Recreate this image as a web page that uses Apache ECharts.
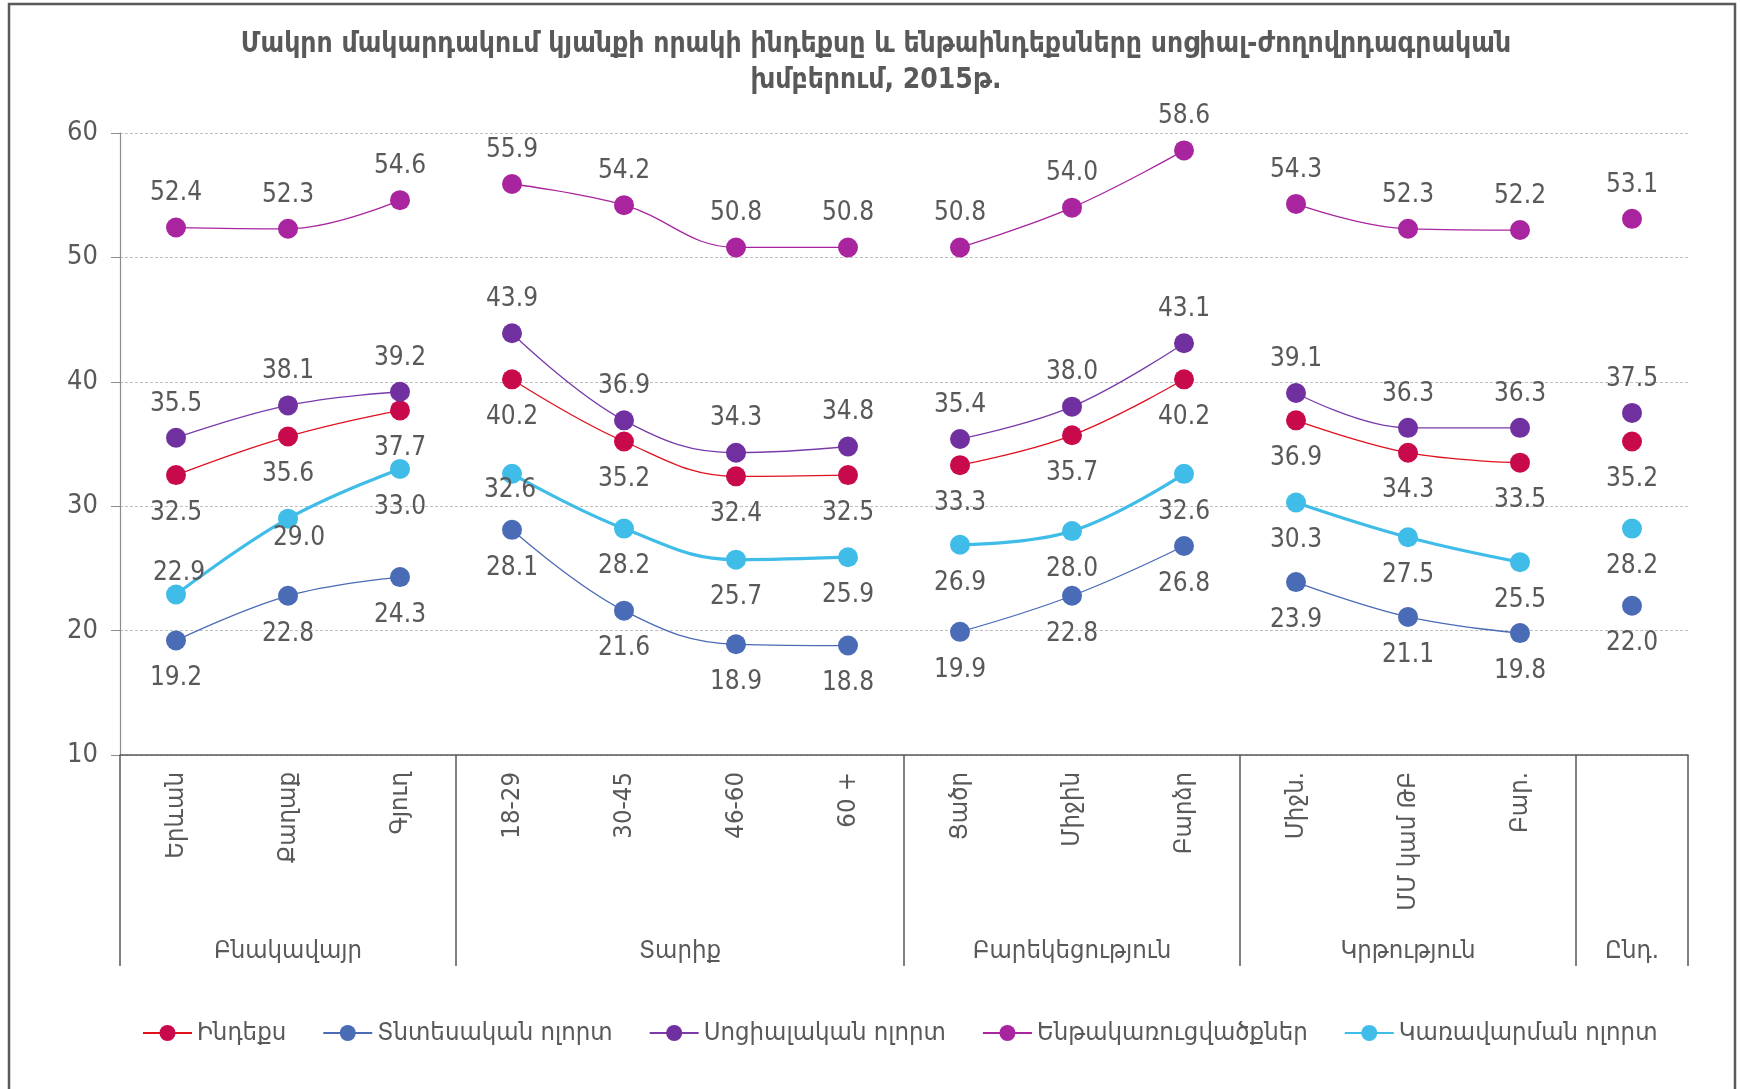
<!DOCTYPE html>
<html>
<head>
<meta charset="utf-8">
<script src="https://cdn.jsdelivr.net/npm/echarts@6/dist/echarts.min.js"></script>
<style>
html,body{margin:0;padding:0;background:#fff;}
#chart{width:1741px;height:1089px;}
</style>
</head>
<body>
<div id="chart"></div>
<script>
// ---- data ----
const categories = ['Երևան','Քաղաք','Գյուղ','18-29','30-45','46-60','60 +','Ցածր','Միջին','Բարձր','Միջն.','ՄՄ կամ ԹԲ','Բար.',''];
const groupNames = ['Բնակավայր','Տարիք','Բարեկեցություն','Կրթություն','Ընդ.'];
const groupSizes = [3, 4, 3, 3, 1];
const seriesNames = ['Ինդեքս','Տնտեսական ոլորտ','Սոցիալական ոլորտ','Ենթակառուցվածքներ','Կառավարման ոլորտ'];
const indexVals = [32.5, 35.6, 37.7, 40.2, 35.2, 32.4, 32.5, 33.3, 35.7, 40.2, 36.9, 34.3, 33.5, 35.2];
const economicVals = [19.2, 22.8, 24.3, 28.1, 21.6, 18.9, 18.8, 19.9, 22.8, 26.8, 23.9, 21.1, 19.8, 22.0];
const socialVals = [35.5, 38.1, 39.2, 43.9, 36.9, 34.3, 34.8, 35.4, 38.0, 43.1, 39.1, 36.3, 36.3, 37.5];
const infraVals = [52.4, 52.3, 54.6, 55.9, 54.2, 50.8, 50.8, 50.8, 54.0, 58.6, 54.3, 52.3, 52.2, 53.1];
const govVals = [22.9, 29.0, 33.0, 32.6, 28.2, 25.7, 25.9, 26.9, 28.0, 32.6, 30.3, 27.5, 25.5, 28.2];
const yTicks = [10, 20, 30, 40, 50, 60];

// ---- styles ----
const FONT = 'DejaVu Sans Condensed';
const TXT = '#595959';
const styles = [
  {line:'#E0101E', mark:'#C8094B', width:1.3, pos:'bottom'},
  {line:'#4A6BB5', mark:'#4A6BB5', width:1.3, pos:'bottom'},
  {line:'#7A3BAA', mark:'#7030A0', width:1.3, pos:'top'},
  {line:'#A8259F', mark:'#A8259F', width:1.3, pos:'top'},
  {line:'#3FBDE8', mark:'#3FBDE8', width:3.2, pos:'bottom'}
];
// per-point label tweaks (series index, category index)
const labelTweaks = {
  '4_0': {position:'top', distance:-2, offset:[3,0]},
  '4_1': {position:'bottom', distance:-3, offset:[11,0]},
  '4_3': {position:'bottom', distance:-7, offset:[-2,0]}
};

const allVals = [indexVals, economicVals, socialVals, infraVals, govVals];

// group ranges
const groups = [];
let start = 0;
groupSizes.forEach(s => { groups.push([start, start + s]); start += s; });
const groupCenters = groups.map(g => (g[0] + g[1]) / 2);
const groupEdges = [0].concat(groups.map(g => g[1]));

const series = [];
allVals.forEach((vals, si) => {
  const st = styles[si];
  groups.forEach(g => {
    const data = categories.map((c, ci) => {
      if (ci < g[0] || ci >= g[1]) return '-';
      const tw = labelTweaks[si + '_' + ci];
      if (tw) return {value: vals[ci], label: tw};
      return vals[ci];
    });
    series.push({
      name: seriesNames[si],
      type: 'line',
      xAxisIndex: 0,
      data: data,
      smooth: 0.4,
      symbol: 'circle',
      symbolSize: 20,
      showAllSymbol: true,
      z: si === 4 ? 3 : 2,
      lineStyle: {color: st.line, width: st.width},
      itemStyle: {color: st.mark},
      label: {
        show: true,
        position: st.pos,
        distance: st.pos === 'top' ? 11 : 15,
        color: TXT,
        fontFamily: FONT,
        fontSize: 26,
        formatter: p => Number(p.value).toFixed(1)
      },
      emphasis: {disabled: true}
    });
  });
});

const chart = echarts.init(document.getElementById('chart'), null, {renderer: 'canvas'});
chart.setOption({
  backgroundColor: '#fff',
  animation: false,
  title: {
    text: 'Մակրո մակարդակում կյանքի որակի ինդեքսը և ենթաինդեքսները սոցիալ-ժողովրդագրական\nխմբերում, 2015թ.',
    left: 871, top: 22, textAlign: 'center',
    textStyle: {fontFamily: FONT, fontWeight: 'bold', fontSize: 28, color: TXT, lineHeight: 36}
  },
  grid: {left: 120, right: 53, top: 133, bottom: 334, containLabel: false},
  legend: {
    data: seriesNames,
    left: 137,
    top: 1015,
    itemWidth: 49,
    itemHeight: 20,
    itemGap: 36,
    textStyle: {fontFamily: FONT, fontSize: 25.5, color: TXT}
  },
  xAxis: [
    {
      type: 'category',
      data: categories,
      boundaryGap: true,
      axisLine: {show: true, lineStyle: {color: TXT, width: 1.5}},
      axisTick: {show: false},
      axisLabel: {interval: 0, rotate: 90, margin: 17, fontFamily: FONT, fontSize: 25.5, color: TXT},
      splitLine: {show: false}
    },
    {
      type: 'value',
      min: 0, max: categories.length,
      position: 'bottom',
      axisLine: {show: false},
      axisTick: {show: true, customValues: groupEdges, length: 211, lineStyle: {color: TXT, width: 1.5}},
      axisLabel: {
        show: true, customValues: groupCenters, margin: 183,
        fontFamily: FONT, fontSize: 25.5, color: TXT,
        formatter: v => { const i = groupCenters.indexOf(v); return i >= 0 ? groupNames[i] : ''; }
      },
      splitLine: {show: false}
    }
  ],
  yAxis: {
    type: 'value',
    min: yTicks[0], max: yTicks[yTicks.length - 1], interval: 10,
    axisLine: {show: true, lineStyle: {color: '#8C8C8C', width: 1.2}},
    axisTick: {show: true, length: 9, lineStyle: {color: '#8C8C8C'}},
    axisLabel: {margin: 22, fontFamily: FONT, fontSize: 27, color: TXT},
    splitLine: {show: true, lineStyle: {color: '#BFBFBF', type: [3, 2], width: 1}}
  },
  graphic: [{
    type: 'rect', silent: true,
    shape: {x: 9, y: 4, width: 1726, height: 1110},
    style: {fill: 'none', stroke: '#5A5A5A', lineWidth: 2.5}
  }],
  series: series
});
</script>
</body>
</html>
